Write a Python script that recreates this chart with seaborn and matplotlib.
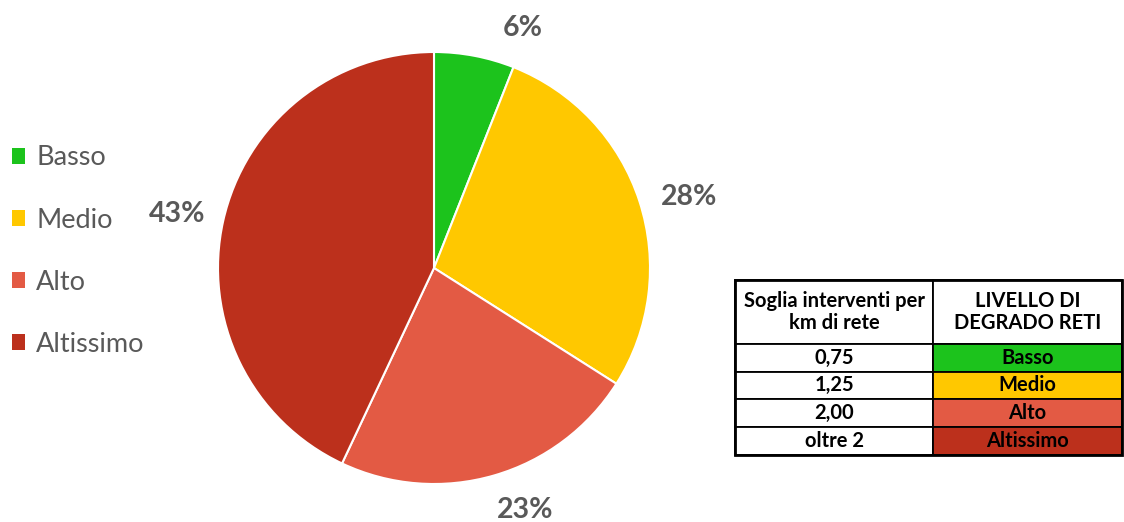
import matplotlib
matplotlib.use("Agg")
import matplotlib.pyplot as plt
import seaborn as sns

# ---- data ----
categories = ["Basso", "Medio", "Alto", "Altissimo"]
shares = [6, 28, 23, 43]
slice_colors = ["#1CC31C", "#FFC800", "#E35A44", "#BC301C"]

table_header = ["Soglia interventi per\nkm di rete", "LIVELLO DI\nDEGRADO RETI"]
thresholds = ["0,75", "1,25", "2,00", "oltre 2"]
levels = ["Basso", "Medio", "Alto", "Altissimo"]

# label positions (in pie radius units, relative to centre)
label_pos = [(0.41, 1.11), (1.18, 0.33), (0.42, -1.12), (-1.19, 0.25)]

sns.set_theme(style="white")
plt.rcParams["font.family"] = ["Lato", "DejaVu Sans"]

fig = plt.figure(figsize=(11.24, 5.22), dpi=100)
fig.patch.set_facecolor("white")

W, H = 1124, 522
cx, cy, r = 434, 268, 216
ax = fig.add_axes([(cx - r) / W, (H - cy - r) / H, 2 * r / W, 2 * r / H])
wedges, _ = ax.pie(shares, colors=slice_colors, startangle=90, counterclock=False,
                   radius=1, wedgeprops=dict(edgecolor="white", linewidth=1.5))
ax.set_xlim(-1, 1)
ax.set_ylim(-1, 1)
ax.set_aspect("equal")
ax.axis("off")

for v, (x, y) in zip(shares, label_pos):
    ax.text(x, y, f"{v}%", ha="center", va="center", fontsize=20.5,
            fontweight="bold", color="#595959", clip_on=False)

leg = fig.legend(wedges, categories, loc="center left", bbox_to_anchor=(0.0105, 0.519),
                 frameon=False, fontsize=19.5, labelcolor="#595959",
                 handlelength=0.5, handleheight=0.5, handletextpad=0.4,
                 labelspacing=1.37, borderaxespad=0, borderpad=0)
for h in leg.legend_handles:
    h.set_edgecolor("none")

# ---- table ----
tx0, tx1, ty0, ty1 = 735, 1122, 280, 455
tax = fig.add_axes([tx0 / W, (H - ty1) / H, (tx1 - tx0) / W, (ty1 - ty0) / H])
tax.axis("off")
cell_text = [[t, l] for t, l in zip(thresholds, levels)]
tbl = tax.table(cellText=cell_text, colLabels=table_header, bbox=[0, 0, 1, 1],
                cellLoc="center", colWidths=[0.512, 0.488])
tbl.auto_set_font_size(False)
total = 63 + 4 * 27.5
for (row, col), cell in tbl.get_celld().items():
    cell.set_edgecolor("black")
    cell.set_linewidth(1.3)
    txt = cell.get_text()
    txt.set_fontweight("bold")
    txt.set_fontsize(14.5)
    txt.set_color("black")
    txt.set_multialignment("center")
    if row == 0:
        cell.set_height(63 / total)
        txt.set_linespacing(1.15)
    else:
        cell.set_height(27.5 / total)
        if col == 1:
            cell.set_facecolor(slice_colors[row - 1])
tax.add_patch(plt.Rectangle((0, 0), 1, 1, transform=tax.transAxes, fill=False,
                            edgecolor="black", linewidth=2, clip_on=False))

fig.savefig("out.png", dpi=100, facecolor="white")
